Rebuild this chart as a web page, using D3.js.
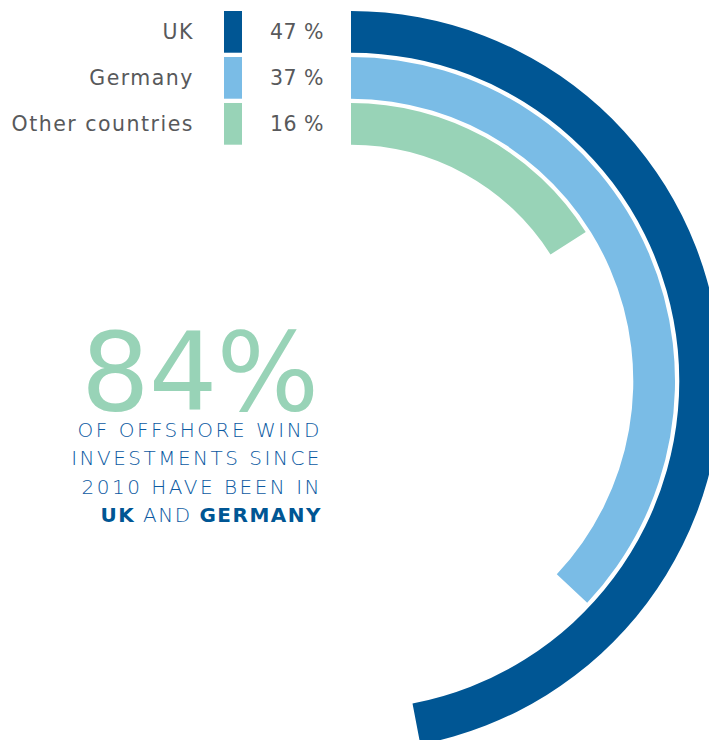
<!DOCTYPE html>
<html>
<head>
<meta charset="utf-8">
<script src="https://cdn.jsdelivr.net/npm/d3@7"></script>
<style>
  body { margin: 0; background: #fff; }
  svg { display: block; }
</style>
</head>
<body>
<div id="chart"></div>
<script>
// share of offshore wind investments since 2010
var countries = ['UK', 'Germany', 'Other countries'];
var shares = [47, 37, 16];
var colors = ['#005694', '#7abce6', '#98d3b7'];

var width = 709, height = 740;
var cx = 351, cy = 381;

var svg = d3.select('#chart').append('svg')
  .attr('width', width)
  .attr('height', height);

// radius per country (outermost = first)
var r = d3.scaleBand()
  .domain(countries)
  .range([370, 236.3])
  .paddingInner(0.093);

// share -> angle, full circle = 100 %
var angle = d3.scaleLinear().domain([0, 100]).range([0, 2 * Math.PI]);

var arc = d3.arc()
  .innerRadius(function(d) { return r(d.name); })
  .outerRadius(function(d) { return r(d.name) + r.bandwidth(); })
  .startAngle(0)
  .endAngle(function(d) { return angle(d.value); });

var data = countries.map(function(c, i) {
  return { name: c, value: shares[i], color: colors[i] };
});

svg.append('g')
  .attr('transform', 'translate(' + cx + ',' + cy + ')')
  .selectAll('path')
  .data(data)
  .enter().append('path')
  .attr('d', arc)
  .attr('fill', function(d) { return d.color; });

// legend rows lined up with the arc tops
var legend = svg.append('g').selectAll('g')
  .data(data)
  .enter().append('g')
  .attr('transform', function(d) {
    return 'translate(0,' + (cy - r(d.name) - r.bandwidth()) + ')';
  });

legend.append('rect')
  .attr('x', 224)
  .attr('width', 18)
  .attr('height', r.bandwidth())
  .attr('fill', function(d) { return d.color; });

legend.append('text')
  .attr('x', 194)
  .attr('y', r.bandwidth() / 2 + 7.5)
  .attr('text-anchor', 'end')
  .style('font-family', '"DejaVu Sans", sans-serif')
  .style('font-size', '20.5px')
  .style('letter-spacing', '1.5px')
  .attr('fill', '#58595b')
  .text(function(d) { return d.name; });

legend.append('text')
  .attr('x', 324)
  .attr('y', r.bandwidth() / 2 + 7.5)
  .attr('text-anchor', 'end')
  .style('font-family', '"DejaVu Sans", sans-serif')
  .style('font-size', '20.5px')
  .style('letter-spacing', '0.5px')
  .attr('fill', '#58595b')
  .text(function(d) { return d.value + ' %'; });

// headline
svg.append('text')
  .attr('x', 318)
  .attr('y', 410)
  .attr('text-anchor', 'end')
  .style('font-family', '"DejaVu Sans", sans-serif')
  .style('font-size', '108px')
  .style('letter-spacing', '-1px')
  .attr('fill', '#98d3b7')
  .text(d3.sum(shares.slice(0, 2)) + '%');

var lines = ['OF OFFSHORE WIND', 'INVESTMENTS SINCE', '2010 HAVE BEEN IN'];
svg.append('g').selectAll('text')
  .data(lines)
  .enter().append('text')
  .attr('x', 322)
  .attr('y', function(d, i) { return 437 + i * 28.3; })
  .attr('text-anchor', 'end')
  .style('font-family', '"DejaVu Sans", sans-serif')
  .style('font-weight', 200)
  .style('font-size', '20px')
  .style('letter-spacing', '2.5px')
  .attr('fill', '#0c5aa2')
  .text(function(d) { return d; });

var last = svg.append('text')
  .attr('x', 322)
  .attr('y', 437 + 3 * 28.3)
  .attr('text-anchor', 'end')
  .style('font-family', '"DejaVu Sans", sans-serif')
  .style('font-size', '20px')
  .style('letter-spacing', '1.5px')
  .attr('fill', '#0c5aa2');
last.append('tspan').style('font-weight', 700).attr('fill', '#005694').text('UK');
last.append('tspan').style('font-weight', 200).text(' AND ');
last.append('tspan').style('font-weight', 700).attr('fill', '#005694').text('GERMANY');
</script>
</body>
</html>
